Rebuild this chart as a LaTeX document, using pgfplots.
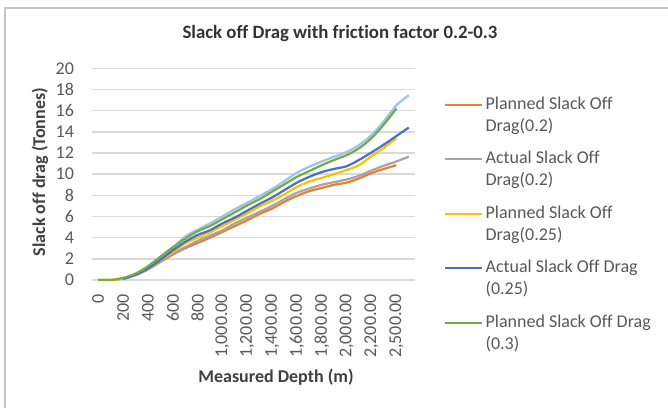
\documentclass[border=0pt]{standalone}
\usepackage{fontspec}
\setmainfont{Carlito}[Ligatures=NoCommon]
\usepackage{pgfplots}
\pgfplotsset{compat=1.18}
\usepackage{pgfplotstable}

\definecolor{cOrange}{HTML}{ED7D31}
\definecolor{cGray}{HTML}{A5A5A5}
\definecolor{cYellow}{HTML}{FFC000}
\definecolor{cBlue}{HTML}{4472C4}
\definecolor{cGreen}{HTML}{70AD47}
\definecolor{cLight}{HTML}{9DC3E6}
\definecolor{gridc}{HTML}{D9D9D9}
\definecolor{txt}{HTML}{595959}

% planned series (category index, friction 0.2 / 0.25 / 0.3)
\pgfplotstableread{
i   p02    p025   p03
0   0      0      0
1   0      0      0
2   0.15   0.15   0.2
3   0.5    0.55   0.6
4   1.0    1.1    1.3
5   1.7    1.85   2.2
6   2.4    2.65   3.1
7   3.0    3.45   3.9
8   3.5    4.0    4.6
9   4.0    4.5    5.1
10  4.55   5.1    5.75
11  5.1    5.7    6.4
12  5.65   6.3    7.05
13  6.25   6.95   7.65
14  6.75   7.5    8.35
15  7.4    8.1    9.05
16  7.95   8.8    9.75
17  8.4    9.3    10.3
18  8.7    9.65   10.85
19  9.0    10.0   11.35
20  9.2    10.4   11.8
21  9.6    10.85  12.45
22  10.1   11.7   13.4
23  10.5   12.5   14.7
24  10.85  13.4   16.2
}\planned

% actual series
\pgfplotstableread{
i   a02    a025   a03
2   0.1    0.1    0.15
3   0.45   0.5    0.55
4   1.0    1.1    1.2
5   1.75   1.9    2.0
6   2.5    2.8    3.0
7   3.1    3.6    4.1
8   3.7    4.25   4.75
9   4.2    4.7    5.35
10  4.7    5.35   6.0
11  5.35   5.9    6.7
12  5.9    6.55   7.3
13  6.45   7.2    7.95
14  7.0    7.8    8.6
15  7.65   8.5    9.35
16  8.25   9.2    10.15
17  8.65   9.75   10.7
18  9.0    10.2   11.2
19  9.25   10.5   11.65
20  9.5    10.75  12.1
21  9.85   11.35  12.75
22  10.35  12.05  13.7
23  10.8   12.8   15.0
24  11.2   13.6   16.5
25  11.65  14.4   17.45
}\actual

\begin{document}
\begin{tikzpicture}
\path[use as bounding box] (0,0) rectangle (334pt,204pt);
\fill[white] (0,0) rectangle (334pt,204pt);
\draw[gray!45, line width=0.6pt] (2.5pt,0) -- (2.5pt,200pt) -- (334pt,200pt);
\node[font=\bfseries\fontsize{9.4}{11}\selectfont, text=black!80] at (170pt,187.5pt)
  {Slack off Drag with friction factor 0.2-0.3};

\begin{axis}[
  at={(46pt,64pt)}, anchor=south west,
  scale only axis, width=161.5pt, height=105.85pt,
  xmin=-0.5, xmax=25.5, ymin=0, ymax=20,
  xtick={0,2,...,24},
  xticklabels={0,200,400,600,800,{1,000.00},{1,200.00},{1,400.00},{1,600.00},{1,800.00},{2,000.00},{2,200.00},{2,500.00}},
  ytick={0,2,...,20},
  ymajorgrids, grid style={gridc, line width=0.75pt},
  axis x line*=bottom, axis y line*=left,
  x axis line style={gridc, line width=0.75pt, -},
  y axis line style={draw=none},
  major tick length=0pt,
  /pgf/number format/assume math mode=true,
  tick label style={font=\fontsize{9}{11}\selectfont, text=txt},
  xticklabel style={rotate=90, anchor=east},
  xticklabel shift=3.5pt,
  yticklabel shift=5.5pt,
  every axis plot/.append style={line width=1.1pt, smooth, tension=0.5},
  legend cell align=left,
  legend style={at={(1.0867,0.8767)}, anchor=north west, draw=none, fill=none,
    inner sep=0pt, row sep=6.5pt, column sep=0.5pt,
    font=\fontsize{9}{11}\selectfont, text=txt,
    nodes={inner sep=1pt, align=left}},
  legend image code/.code={\draw[#1] (0pt,5.45pt) -- (18.5pt,5.45pt);},
]
\addplot[cLight, forget plot] table[x=i, y=a03] {\actual};
\addplot[cOrange] table[x=i, y=p02] {\planned};
\addlegendentry{Planned Slack Off\\Drag(0.2)}
\addplot[cGray] table[x=i, y=a02] {\actual};
\addlegendentry{Actual Slack Off\\Drag(0.2)}
\addplot[cYellow] table[x=i, y=p025] {\planned};
\addlegendentry{Planned Slack Off\\Drag(0.25)}
\addplot[cBlue] table[x=i, y=a025] {\actual};
\addlegendentry{Actual Slack Off Drag\\(0.25)}
\addplot[cGreen] table[x=i, y=p03] {\planned};
\addlegendentry{Planned Slack Off Drag\\(0.3)}
\end{axis}

\node[font=\bfseries\fontsize{9}{11}\selectfont, text=black!75] at (138pt,15.5pt) {Measured Depth (m)};
\node[font=\bfseries\fontsize{9}{11}\selectfont, text=black!75, rotate=90] at (20pt,118pt) {Slack off drag (Tonnes)};
\end{tikzpicture}
\end{document}
